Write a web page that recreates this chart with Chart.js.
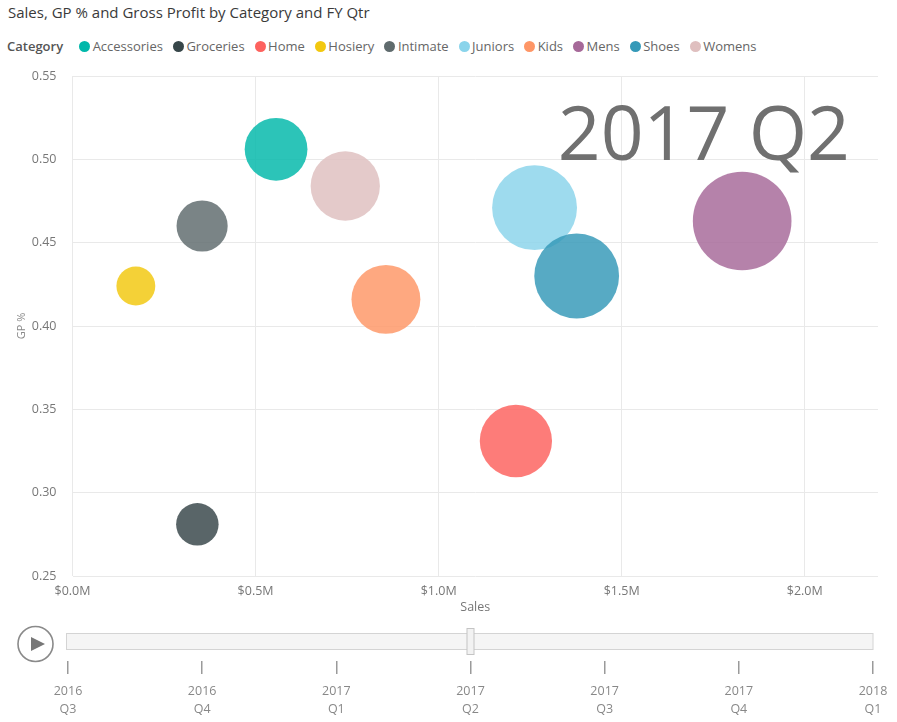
<!DOCTYPE html>
<html>
<head>
<meta charset="utf-8">
<script src="https://cdn.jsdelivr.net/npm/chart.js@4/dist/chart.umd.min.js"></script>
<style>
  body { margin: 0; width: 897px; height: 722px; background: #fff; position: relative; overflow: hidden; font-family: "Open Sans", sans-serif; }
  #title { position: absolute; left: 8px; top: 2px; font-size: 15px; color: #3a3a3a; white-space: nowrap; }
  #legend { position: absolute; left: 7px; top: 37px; display: flex; align-items: center; font-size: 13px; color: #666; white-space: nowrap; }
  #legend .head { font-weight: 600; color: #555; margin-right: 16px; }
  #legend .item { display: flex; align-items: center; margin-right: 10px; }
  #legend .dot { width: 11px; height: 11px; border-radius: 50%; margin-right: 2.5px; }
  #bubbles { position: absolute; left: 0; top: 0; }
  #timeline { position: absolute; left: 0; top: 620px; }
</style>
</head>
<body>
<div id="title">Sales, GP % and Gross Profit by Category and FY Qtr</div>
<div id="legend"><span class="head">Category</span></div>
<canvas id="bubbles" width="897" height="625"></canvas>
<canvas id="timeline" width="897" height="102"></canvas>
<script>
// FY quarter shown on the play axis
var quarters = [['2016', 'Q3'], ['2016', 'Q4'], ['2017', 'Q1'], ['2017', 'Q2'], ['2017', 'Q3'], ['2017', 'Q4'], ['2018', 'Q1']];
var currentQtr = 3;

var categories = ['Accessories', 'Groceries', 'Home', 'Hosiery', 'Intimate', 'Juniors', 'Kids', 'Mens', 'Shoes', 'Womens'];
var sales = [0.556, 0.341, 1.211, 0.173, 0.354, 1.262, 0.856, 1.829, 1.377, 0.745];        // $M
var gpPct = [0.506, 0.281, 0.331, 0.424, 0.460, 0.471, 0.416, 0.463, 0.430, 0.484];
var grossProfit = [0.281, 0.096, 0.401, 0.073, 0.163, 0.594, 0.356, 0.847, 0.592, 0.361];  // $M
var colors = ['#01B8AA', '#374649', '#FD625E', '#F2C80F', '#5F6B6D', '#8AD4EB', '#FE9666', '#A66999', '#3599B8', '#DFBFBF'];

var salesTicks = [0, 0.5, 1.0, 1.5, 2.0];
var gpTicks = [0.25, 0.30, 0.35, 0.40, 0.45, 0.50, 0.55];

Chart.defaults.font.family = '"Open Sans", sans-serif';

function withAlpha(hex, a) {
  var n = parseInt(hex.slice(1), 16);
  return 'rgba(' + (n >> 16) + ',' + ((n >> 8) & 255) + ',' + (n & 255) + ',' + a + ')';
}

// bubble radius from gross profit
function bubbleSize(gp) {
  return 7 + 46 * Math.sqrt(gp);
}

// legend row
var legend = document.getElementById('legend');
categories.forEach(function (c, i) {
  var item = document.createElement('span');
  item.className = 'item';
  item.innerHTML = '<span class="dot" style="background:' + colors[i] + '"></span>' + c;
  legend.appendChild(item);
});

var datasets = categories.map(function (c, i) {
  return {
    label: c,
    data: [{ x: sales[i], y: gpPct[i], r: bubbleSize(grossProfit[i]) }],
    backgroundColor: withAlpha(colors[i], 0.83),
    borderWidth: 0,
    order: categories.length - i
  };
});

// big quarter label behind the bubbles
var qtrLabel = {
  id: 'qtrLabel',
  beforeDatasetsDraw: function (chart) {
    var ctx = chart.ctx, area = chart.chartArea;
    ctx.save();
    ctx.font = '75px "Open Sans", sans-serif';
    ctx.fillStyle = '#707070';
    ctx.textAlign = 'right';
    ctx.textBaseline = 'alphabetic';
    ctx.fillText(quarters[currentQtr].join(' '), area.right - 28, area.top + 84);
    ctx.restore();
  }
};

new Chart('bubbles', {
  type: 'bubble',
  data: { datasets: datasets },
  options: {
    responsive: false,
    animation: false,
    layout: { autoPadding: false, padding: { top: 76, right: 19, bottom: 1, left: 0 } },
    plugins: { legend: { display: false }, tooltip: { enabled: false } },
    scales: {
      x: {
        type: 'linear',
        min: 0,
        max: 2.2,
        afterBuildTicks: function (s) { s.ticks = salesTicks.map(function (v) { return { value: v }; }); },
        afterFit: function (s) { s.height = 48; },
        grid: { color: '#E9E9E9', drawTicks: false },
        border: { display: false },
        ticks: {
          color: '#777', font: { size: 12.5 }, padding: 8, maxRotation: 0,
          callback: function (v) { return '$' + v.toFixed(1) + 'M'; }
        },
        title: { display: true, text: 'Sales', color: '#777', font: { size: 12.5 }, padding: { top: 0, bottom: 9 } }
      },
      y: {
        type: 'linear',
        min: 0.25,
        max: 0.55,
        afterBuildTicks: function (s) { s.ticks = gpTicks.map(function (v) { return { value: v }; }); },
        afterFit: function (s) { s.width = 72.5; },
        grid: { color: '#E9E9E9', drawTicks: false },
        border: { display: false },
        ticks: {
          color: '#777', font: { size: 12.5 }, padding: 16,
          callback: function (v) { return v.toFixed(2); }
        },
        title: { display: true, text: 'GP %', color: '#888', font: { size: 11 }, padding: { top: 15, bottom: 0 } }
      }
    }
  },
  plugins: [qtrLabel]
});

// play button, track and handle of the play axis
var playAxis = {
  id: 'playAxis',
  beforeDraw: function (chart) {
    var ctx = chart.ctx, x = chart.scales.x;
    var left = x.getPixelForValue(0) - 1.5, right = x.getPixelForValue(quarters.length - 1);
    var handle = x.getPixelForValue(currentQtr);
    ctx.save();
    // button
    ctx.beginPath();
    ctx.arc(35.5, 24, 17.5, 0, Math.PI * 2);
    ctx.strokeStyle = '#8a8a8a';
    ctx.lineWidth = 1.6;
    ctx.stroke();
    ctx.beginPath();
    ctx.moveTo(31, 17);
    ctx.lineTo(45, 24);
    ctx.lineTo(31, 31);
    ctx.closePath();
    ctx.fillStyle = '#777';
    ctx.fill();
    // track
    ctx.fillStyle = '#F5F5F5';
    ctx.strokeStyle = '#D4D4D4';
    ctx.lineWidth = 1;
    ctx.fillRect(left, 13.5, right - left, 16);
    ctx.strokeRect(left, 13.5, right - left, 16);
    // handle
    ctx.fillStyle = '#F2F2F2';
    ctx.strokeStyle = '#C4C4C4';
    ctx.fillRect(handle - 3.5, 8.5, 7, 26);
    ctx.strokeRect(handle - 3.5, 8.5, 7, 26);
    ctx.restore();
  }
};

new Chart('timeline', {
  type: 'line',
  data: { labels: quarters, datasets: [{ data: [] }] },
  options: {
    responsive: false,
    animation: false,
    layout: { padding: { top: 0, right: 24, bottom: 0, left: 68 } },
    plugins: { legend: { display: false }, tooltip: { enabled: false } },
    scales: {
      x: {
        afterFit: function (s) { s.height = 61; },
        grid: { drawOnChartArea: false, color: '#9a9a9a', lineWidth: 1.5, tickLength: 13 },
        border: { display: false },
        ticks: { color: '#888', font: { size: 12.5, lineHeight: 1.45 }, padding: 8, maxRotation: 0, autoSkip: false }
      },
      y: { display: false }
    }
  },
  plugins: [playAxis]
});
</script>
</body>
</html>
